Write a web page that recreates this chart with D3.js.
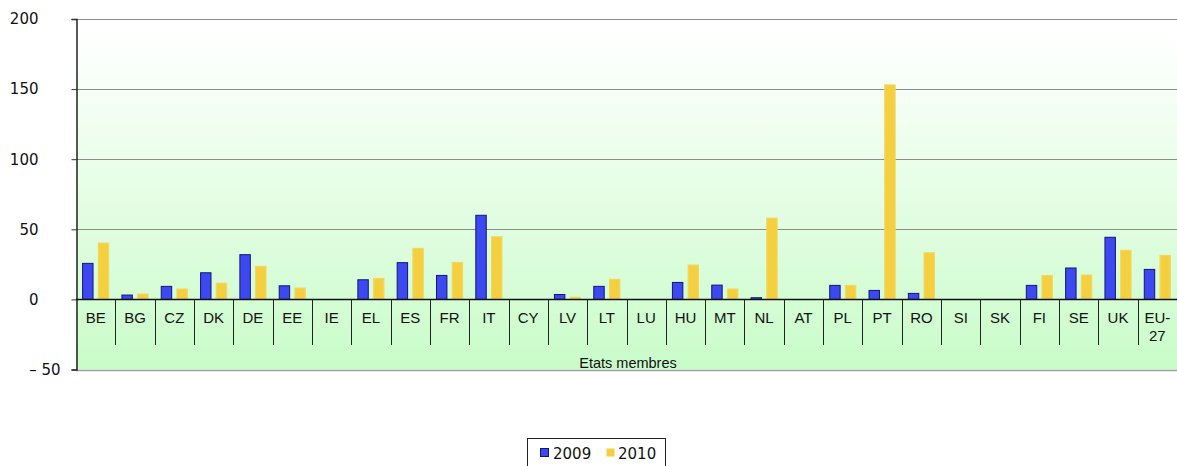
<!DOCTYPE html>
<html>
<head>
<meta charset="utf-8">
<script src="https://cdn.jsdelivr.net/npm/d3@7"></script>
<style>
  body { margin: 0; background: #fff; }
  svg { display: block; }
</style>
</head>
<body>
<div id="chart"></div>
<script>
const canvas = { w: 1177, h: 466 };

// data
const countries = ["BE","BG","CZ","DK","DE","EE","IE","EL","ES","FR","IT","CY","LV","LT","LU","HU","MT","NL","AT","PL","PT","RO","SI","SK","FI","SE","UK","EU-27"];
const years = ["2009", "2010"];
const values2009 = [25.7,3.1,9.3,19,31.9,9.7,0,14,26.2,17.1,60,0,3.5,9.3,0,12.1,10.2,1.2,0,10,6.4,4.3,0,0,10,22.4,44.3,21.4];
const values2010 = [40.2,3.8,7.4,11.6,23.6,8.1,0,15,36.4,26.4,44.7,0,1.6,14.3,0,24.5,7.4,58,0,10,153,33.3,0,0,17.1,17.4,35,31.4];
const yTicks = [-50, 0, 50, 100, 150, 200];

const colors = { "2009": "#3c48f0", "2010": "#f4d040" };
const strokes = { "2009": "#14147a", "2010": "#f0d860" };

const plot = { left: 76, right: 1177, top: 19, bottom: 369.5 };

const svg = d3.select("#chart")
    .append("svg")
    .attr("width", canvas.w)
    .attr("height", canvas.h)
    .style("font-family", "'Liberation Sans', Arial, sans-serif");

const defs = svg.append("defs");
const grad = defs.append("linearGradient")
    .attr("id", "bg").attr("x1", 0).attr("y1", 0).attr("x2", 0).attr("y2", 1);
grad.append("stop").attr("offset", "0%").attr("stop-color", "#ffffff");
grad.append("stop").attr("offset", "8%").attr("stop-color", "#fdfffd");
grad.append("stop").attr("offset", "100%").attr("stop-color", "#c9fcc9");

const x = d3.scaleBand()
    .domain(countries)
    .range([plot.left, plot.right])
    .padding(0);

const inner = 6.6;
const x1 = d3.scaleBand()
    .domain(years)
    .range([inner, x.bandwidth() - inner])
    .paddingInner(0.335)
    .paddingOuter(0);

const y = d3.scaleLinear()
    .domain([-50, 200])
    .range([plot.bottom, plot.top]);

// background
svg.append("rect")
    .attr("x", plot.left).attr("y", plot.top)
    .attr("width", plot.right - plot.left)
    .attr("height", plot.bottom - plot.top)
    .attr("fill", "url(#bg)");

// gridlines
svg.append("g")
    .selectAll("line")
    .data(yTicks.filter(d => d !== 0))
    .join("line")
    .attr("x1", plot.left).attr("x2", plot.right)
    .attr("y1", d => Math.round(y(d)) + 0.5)
    .attr("y2", d => Math.round(y(d)) + 0.5)
    .attr("stroke", d => d === -50 ? "#a0a0a0" : "#8c8c8c")
    .attr("stroke-width", d => d === -50 ? 1.5 : 1);

// y axis
const yAxis = d3.axisLeft(y)
    .tickValues(yTicks)
    .tickSize(5)
    .tickFormat(d => d < 0 ? "\u2013 " + Math.abs(d) : d);

const gy = svg.append("g")
    .attr("transform", `translate(${plot.left + 0.5},0)`)
    .call(yAxis);
gy.select(".domain").attr("stroke", "#222").attr("stroke-width", 1.5);
gy.selectAll(".tick line").attr("stroke", "#333");
gy.selectAll(".tick text")
    .attr("x", d => d < 0 ? -16 : -38)
    .attr("font-family", "'DejaVu Sans', Verdana, sans-serif")
    .attr("font-size", 15)
    .attr("fill", "#111");

// bars
const groups = svg.append("g")
    .selectAll("g")
    .data(countries)
    .join("g")
    .attr("transform", d => `translate(${x(d)},0)`);

groups.selectAll("rect")
    .data((d, i) => years.map(yr => ({ yr, v: yr === "2009" ? values2009[i] : values2010[i] })))
    .join("rect")
    .filter(d => d.v > 0)
    .attr("x", d => x1(d.yr))
    .attr("width", x1.bandwidth())
    .attr("y", d => y(d.v))
    .attr("height", d => y(0) - y(d.v))
    .attr("fill", d => colors[d.yr])
    .attr("stroke", d => strokes[d.yr])
    .attr("stroke-width", 1);

// zero axis with category dividers
const zeroY = Math.round(y(0)) + 0.5;
svg.append("line")
    .attr("x1", plot.left).attr("x2", plot.right)
    .attr("y1", zeroY).attr("y2", zeroY)
    .attr("stroke", "#111").attr("stroke-width", 1.5);

svg.append("g")
    .selectAll("line")
    .data(countries.slice(1))
    .join("line")
    .attr("x1", d => Math.round(x(d)) + 0.5)
    .attr("x2", d => Math.round(x(d)) + 0.5)
    .attr("y1", zeroY).attr("y2", 345)
    .attr("stroke", "#222");

// category labels
const labels = svg.append("g")
    .selectAll("text")
    .data(countries)
    .join("text")
    .attr("x", d => x(d) + x.bandwidth() / 2)
    .attr("y", 323)
    .attr("text-anchor", "middle")
    .attr("font-size", 15)
    .attr("fill", "#111");
labels.each(function (d) {
    const t = d3.select(this);
    if (d === "EU-27") {
        t.append("tspan").attr("x", x(d) + x.bandwidth() / 2).text("EU-");
        t.append("tspan").attr("x", x(d) + x.bandwidth() / 2).attr("dy", 18).text("27");
    } else {
        t.text(d);
    }
});

// axis title
svg.append("text")
    .attr("x", 628)
    .attr("y", 368)
    .attr("text-anchor", "middle")
    .attr("font-size", 14.5)
    .attr("fill", "#111")
    .text("Etats membres");

// legend
const legend = svg.append("g")
    .attr("font-family", "'DejaVu Sans', Verdana, sans-serif");
legend.append("rect")
    .attr("x", 527.5).attr("y", 438.5)
    .attr("width", 138).attr("height", 40)
    .attr("fill", "#fff").attr("stroke", "#222");

const legendItems = [
    { yr: "2009", sx: 540, tx: 553 },
    { yr: "2010", sx: 606, tx: 618 }
];
legendItems.forEach(it => {
    legend.append("rect")
        .attr("x", it.sx + 0.5).attr("y", 448.5)
        .attr("width", 8).attr("height", 8)
        .attr("fill", colors[it.yr])
        .attr("stroke", it.yr === "2009" ? strokes["2009"] : "none");
    legend.append("text")
        .attr("x", it.tx).attr("y", 458.5)
        .attr("font-size", 15)
        .attr("fill", "#111")
        .text(it.yr);
});
</script>
</body>
</html>
